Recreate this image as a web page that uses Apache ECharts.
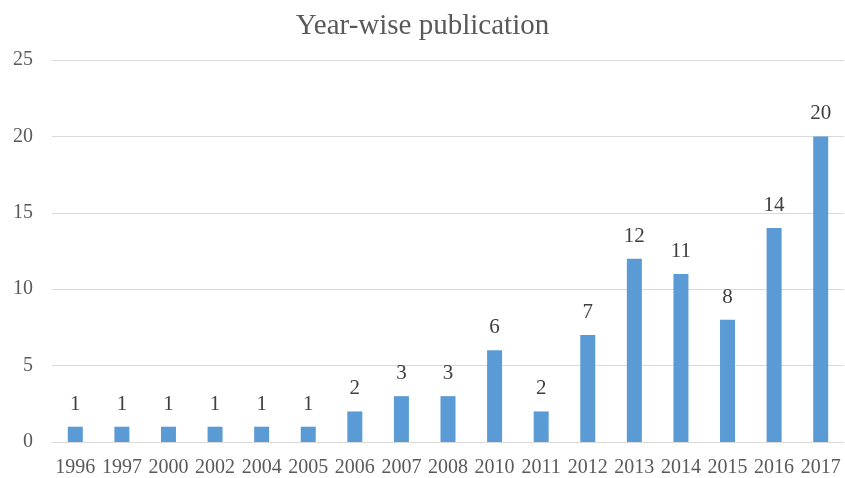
<!DOCTYPE html>
<html>
<head>
<meta charset="utf-8">
<script src="https://cdn.jsdelivr.net/npm/echarts@6/dist/echarts.min.js"></script>
<style>html,body{margin:0;padding:0;background:#fff;}#c{width:845px;height:478px;}</style>
</head>
<body>
<div id="c"></div>
<script>
const years = ['1996','1997','2000','2002','2004','2005','2006','2007','2008','2010','2011','2012','2013','2014','2015','2016','2017'];
const publications = [1,1,1,1,1,1,2,3,3,6,2,7,12,11,8,14,20];
const yTicks = [0,5,10,15,20,25];
const titleText = 'Year-wise publication';

const font = '"Liberation Serif", "Times New Roman", serif';
const chart = echarts.init(document.getElementById('c'), null, {renderer:'canvas'});
chart.setOption({
  animation: false,
  backgroundColor: '#ffffff',
  title: {
    text: titleText,
    left: 'center',
    top: 7,
    textStyle: {fontFamily: font, fontSize: 29, fontWeight: 'normal', color: '#595959'}
  },
  grid: {left: 52, right: 1, top: 60, bottom: 34, containLabel: false},
  xAxis: {
    type: 'category',
    data: years,
    axisLine: {show: true, lineStyle: {color: '#D9D9D9', width: 1}},
    axisTick: {show: false},
    axisLabel: {fontFamily: font, fontSize: 20, color: '#595959', margin: 16, interval: 0}
  },
  yAxis: {
    type: 'value',
    min: yTicks[0],
    max: yTicks[yTicks.length-1],
    interval: 5,
    axisLine: {show: false},
    axisTick: {show: false},
    splitLine: {lineStyle: {color: '#D9D9D9', width: 1}},
    axisLabel: {fontFamily: font, fontSize: 20, color: '#595959', margin: 19}
  },
  series: [{
    type: 'bar',
    data: publications,
    barWidth: 15,
    itemStyle: {color: '#5B9BD5'},
    label: {show: true, position: 'top', distance: 12, fontFamily: font, fontSize: 21, color: '#404040'}
  }]
});
</script>
</body>
</html>
